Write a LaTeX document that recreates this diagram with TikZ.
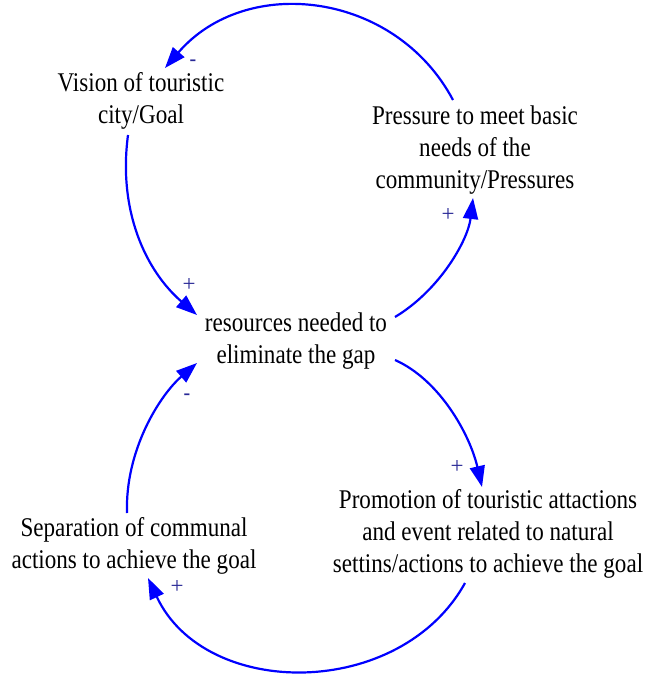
\documentclass[tikz,border=0pt]{standalone}
\usepackage{fontspec}
\setmainfont[FakeStretch=0.855]{Liberation Serif}
\newfontfamily\signfont{Liberation Serif}
\usetikzlibrary{arrows.meta}
\definecolor{signcol}{RGB}{40,40,150}
\begin{document}
\begin{tikzpicture}[x=1pt,y=-1pt,
  lbl/.style={align=center,font=\fontsize{27}{32}\selectfont,inner sep=0pt},
  link/.style={draw=blue,line width=2.2pt,-{Triangle[length=21pt,width=15pt]}},
  sgn/.style={text=signcol,font=\signfont\fontsize{23}{23}\selectfont,inner sep=0pt},
  msgn/.style={sgn,font=\signfont\bfseries\fontsize{20}{20}\selectfont}]
\useasboundingbox (0,0) rectangle (659,684);
\node[lbl] (vis)  at (141,101) {Vision of touristic\\city/Goal};
\node[lbl] (pres) at (475,150) {Pressure to meet basic\\needs of the\\community/Pressures};
\node[lbl] (res)  at (296,341) {resources needed to\\eliminate the gap};
\node[lbl] (prom) at (488,534) {Promotion of touristic attactions\\and event related to natural\\settins/actions to achieve the goal};
\node[lbl] (sep)  at (134,546) {Separation of communal\\actions to achieve the goal};
% connectors
\draw[link] ([shift={(-22,-50)}]pres.center) .. controls (395,-9) and (246,-26) .. ([shift={(24,-33)}]vis.center);
\draw[link] ([shift={(-13,34)}]vis.center) .. controls (118,210) and (145,270) .. ([shift={(-99,-26)}]res.center);
\draw[link] ([shift={(99,-24)}]res.center) .. controls (440,290) and (468,240) .. ([shift={(-2,48)}]pres.center);
\draw[link] ([shift={(99,19)}]res.center) .. controls (440,380) and (470,435) .. ([shift={(-6,-47)}]prom.center);
\draw[link] ([shift={(-23,49)}]prom.center) .. controls (400,700) and (205,700) .. ([shift={(14,32)}]sep.center);
\draw[link] ([shift={(-7,-33)}]sep.center) .. controls (125,450) and (160,395) .. ([shift={(-99,22)}]res.center);
% polarity signs
\node[msgn] (s1) at (193,63) {-};
\node[sgn] (s2) at (189,285) {+};
\node[sgn] (s3) at (448,215) {+};
\node[sgn] (s4) at (457,467) {+};
\node[sgn] (s5) at (177,587) {+};
\node[msgn] (s6) at (187,397) {-};
\end{tikzpicture}
\end{document}
